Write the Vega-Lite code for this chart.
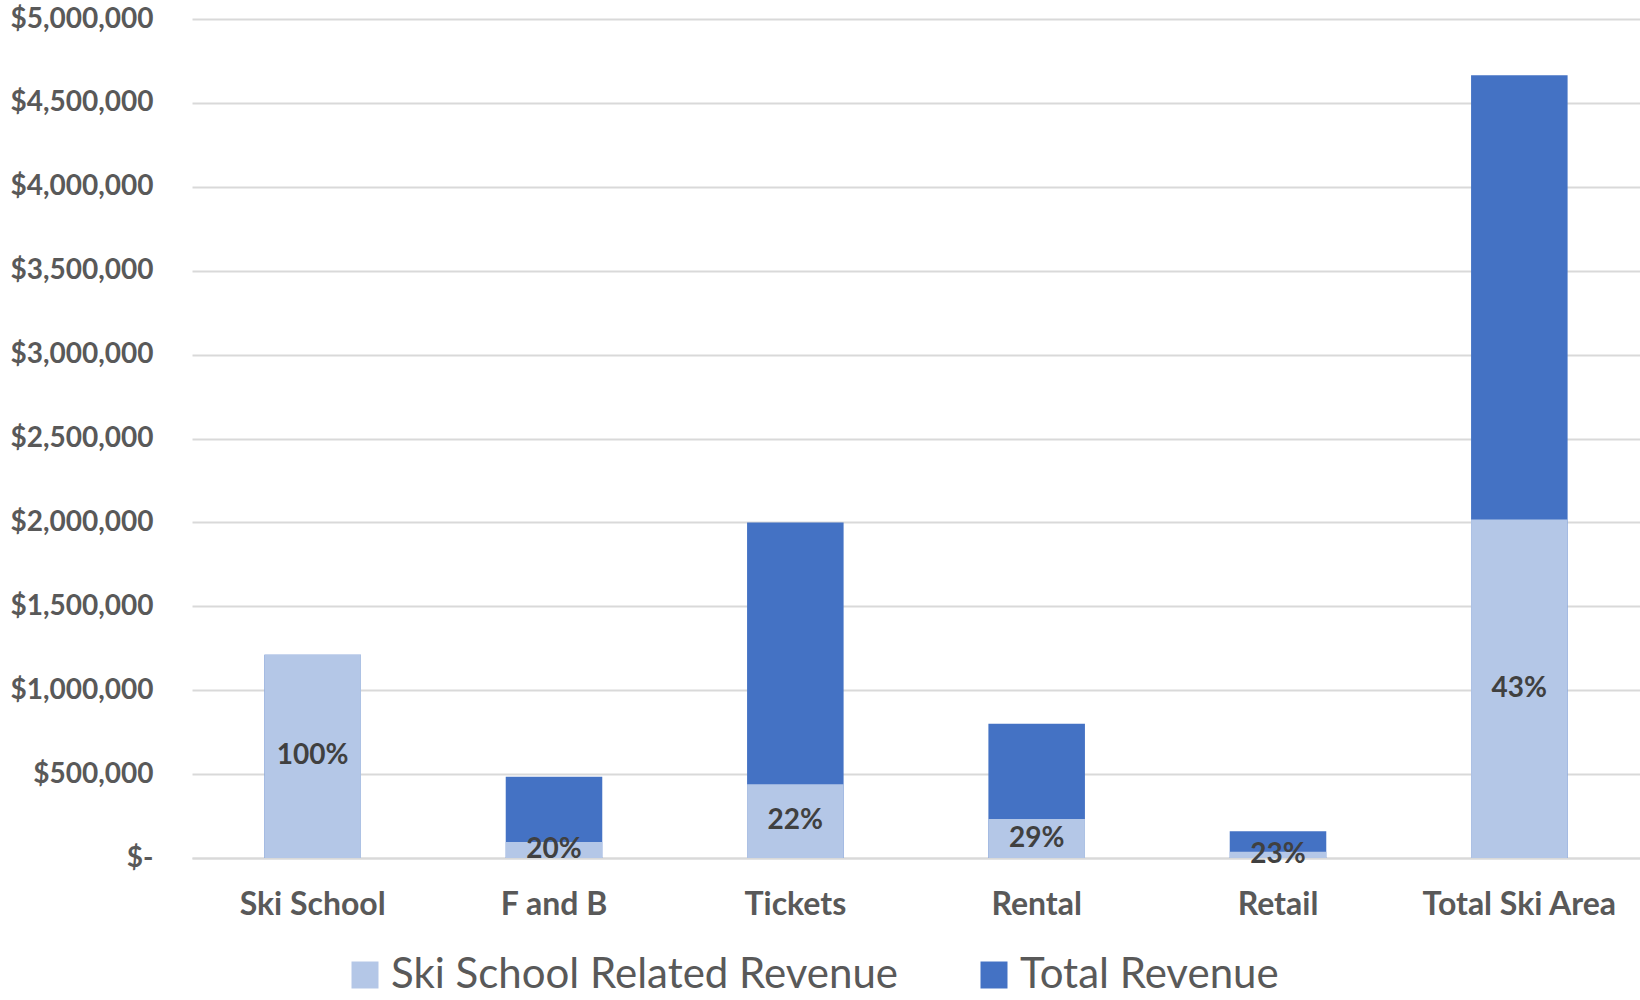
{
  "$schema": "https://vega.github.io/schema/vega-lite/v6.json",
  "width": 1448,
  "height": 839,
  "autosize": {"type": "none"},
  "padding": {"left": 192, "top": 19, "right": 0, "bottom": 142},
  "background": "white",
  "config": {
    "font": "Lato",
    "view": {"stroke": null}
  },
  "data": {
    "values": [
      {"category": "Ski School", "total": 1212000, "related": 1212000, "pct": 1.00},
      {"category": "F and B", "total": 484000, "related": 96000, "pct": 0.20},
      {"category": "Tickets", "total": 2000000, "related": 440000, "pct": 0.22},
      {"category": "Rental", "total": 800000, "related": 232000, "pct": 0.29},
      {"category": "Retail", "total": 160000, "related": 37000, "pct": 0.23},
      {"category": "Total Ski Area", "total": 4665000, "related": 2017000, "pct": 0.43}
    ]
  },
  "encoding": {
    "x": {
      "field": "category",
      "type": "nominal",
      "sort": null,
      "title": null,
      "scale": {"paddingInner": 0.6, "paddingOuter": 0.3},
      "axis": {
        "labelAngle": 0,
        "labelFont": "Lato",
        "labelFontSize": 32,
        "labelFontWeight": "bold",
        "labelColor": "#595959",
        "labelPadding": 31,
        "labelLimit": 400,
        "labelOverlap": false,
        "ticks": false,
        "domain": true,
        "domainColor": "#d9d9d9",
        "domainWidth": 2
      }
    }
  },
  "layer": [
    {
      "mark": {"type": "bar"},
      "encoding": {
        "y": {
          "field": "total",
          "type": "quantitative",
          "title": null,
          "scale": {"domain": [0, 5000000], "nice": false},
          "axis": {
            "values": [0, 500000, 1000000, 1500000, 2000000, 2500000, 3000000, 3500000, 4000000, 4500000, 5000000],
            "labelExpr": "datum.value == 0 ? '$-' : '$' + format(datum.value, ',')",
            "labelFont": "Lato",
            "labelFontSize": 28,
            "labelFontWeight": "bold",
            "labelColor": "#595959",
            "labelPadding": 39,
            "ticks": false,
            "domain": false,
            "grid": true,
            "gridColor": "#d9d9d9",
            "gridWidth": 2
          }
        },
        "color": {
          "datum": "Total Revenue",
          "type": "nominal",
          "scale": {
            "domain": ["Ski School Related Revenue", "Total Revenue"],
            "range": ["#b4c7e7", "#4472c4"]
          },
          "legend": {
            "title": null,
            "orient": "none",
            "legendX": 152,
            "legendY": 935,
            "direction": "horizontal",
            "symbolType": "square",
            "symbolSize": 729,
            "symbolStrokeWidth": 0,
            "labelFont": "Lato",
            "labelFontSize": 42,
            "labelColor": "#595959",
            "labelOffset": 5,
            "columnPadding": 74,
            "labelLimit": 800
          }
        }
      }
    },
    {
      "mark": {"type": "bar"},
      "encoding": {
        "y": {"field": "related", "type": "quantitative"},
        "color": {"datum": "Ski School Related Revenue", "type": "nominal"}
      }
    },
    {
      "transform": [{"calculate": "datum.related / 2", "as": "mid"}],
      "mark": {
        "type": "text",
        "font": "Lato",
        "fontSize": 28,
        "fontWeight": "bold",
        "color": "#404040",
        "baseline": "middle",
        "align": "center"
      },
      "encoding": {
        "y": {"field": "mid", "type": "quantitative"},
        "text": {"field": "pct", "type": "quantitative", "format": ".0%"}
      }
    }
  ]
}
